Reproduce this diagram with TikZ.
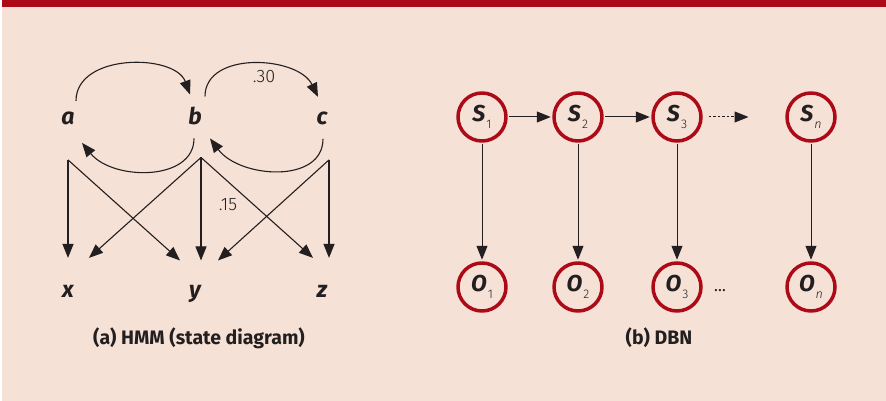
\documentclass[tikz,border=0pt]{standalone}
\usepackage{fontspec}
\setmainfont{Fira Sans}
\newfontfamily\lightfont{Fira Sans Light}
\usetikzlibrary{arrows.meta,calc}
\definecolor{bandred}{HTML}{AC0A16}
\definecolor{peach}{HTML}{F5E1D6}
\definecolor{ink}{HTML}{231F20}
\newcommand{\var}[2]{\textbf{\textit{#1}}\kern1pt\raisebox{-6.5pt}{\lightfont\fontsize{12.5}{12.5}\selectfont#2}}

\begin{document}
\begin{tikzpicture}[x=1pt,y=1pt, line join=round, >={Triangle[length=14pt,width=11pt]}, line width=1.1pt, color=ink,
	sym/.style={font=\fontsize{23}{23}\selectfont\bfseries\itshape, inner sep=0pt, anchor=base},
	prob/.style={font=\lightfont\fontsize{18}{18}\selectfont},
	capt/.style={font=\bfseries\fontsize{19.5}{19.5}\selectfont},
	dbn/.style={circle, draw=bandred, line width=3.5pt, minimum size=48pt, inner sep=0pt, font=\fontsize{23}{23}\selectfont},
	link/.style={->, line width=1pt, shorten >=1.5pt, shorten <=1.5pt}]
	\useasboundingbox (0,0) rectangle (886,-401);
	\fill[peach] (2,-7) rectangle (886,-401);
	\fill[bandred] (2,0) rectangle (886,-7);
	% (a) HMM
	\node[sym] (a) at (68,-125) {a};
	\node[sym] (b) at (195,-125) {b};
	\node[sym] (c) at (322,-125) {c};
	\node[sym] (x) at (68,-297) {x};
	\node[sym] (y) at (195,-297) {y};
	\node[sym] (z) at (322,-297) {z};
	\draw[->] ($(a)+(8,18)$) .. controls ($(a)+(8,66)$) and ($(b)+(-20,63)$) .. ($(b)+(-5,22)$);
	\draw[->] ($(b)+(10,20)$) .. controls ($(b)+(10,66)$) and ($(c)+(-24,63)$) .. ($(c)+(-4,22)$);
	\draw[->] ($(b)+(-1,-22)$) .. controls ($(b)+(-1,-65)$) and ($(a)+(45,-62)$) .. ($(a)+(14,-24)$);
	\draw[->] ($(c)+(1,-20)$) .. controls ($(c)+(1,-65)$) and ($(b)+(45,-62)$) .. ($(b)+(15,-22)$);
	\node[prob] (p30) at (264,-77) {.30};
	\coordinate (a-e) at ($(a)+(0,-41)$);
	\coordinate (b-e) at ($(b)+(6,-41)$);
	\coordinate (c-e) at ($(c)+(7,-41)$);
	\draw[->] (a-e) -- ($(x)+(0,33)$);
	\draw[->] (a-e) -- ($(y)+(-15,33)$);
	\draw[->] (b-e) -- ($(x)+(21,33)$);
	\draw[->] (b-e) -- ($(y)+(6,33)$);
	\draw[->] (b-e) -- ($(z)+(-9,33)$);
	\draw[->] (c-e) -- ($(y)+(23,33)$);
	\draw[->] (c-e) -- ($(z)+(7,33)$);
	\node[prob] (p15) at (228,-205) {.15};
	\node[capt] (cap-a) at (199,-338) {(a) HMM (state diagram)};
	% (b) DBN
	\foreach \i/\xx/\sb in {1/482/1,2/578/2,3/677/3,n/811/\textit{n}}{
		\node[dbn] (s\i) at (\xx,-117) {\var{S}{\sb}};
		\node[dbn] (o\i) at (\xx,-287) {\var{O}{\sb}};
		\draw[link] (s\i) -- (o\i);
	}
	\draw[link] (s1) -- (s2);
	\draw[link] (s2) -- (s3);
	\coordinate (s-end) at (750,-117);
	\draw[link, dash pattern=on 2.5pt off 2pt, shorten <=6pt] (s3) -- (s-end);
	\node[font=\fontsize{16}{16}\selectfont] (o-dots) at (720,-291) {\dots};
	\node[capt] (cap-b) at (659,-338) {(b) DBN};
\end{tikzpicture}
\end{document}
